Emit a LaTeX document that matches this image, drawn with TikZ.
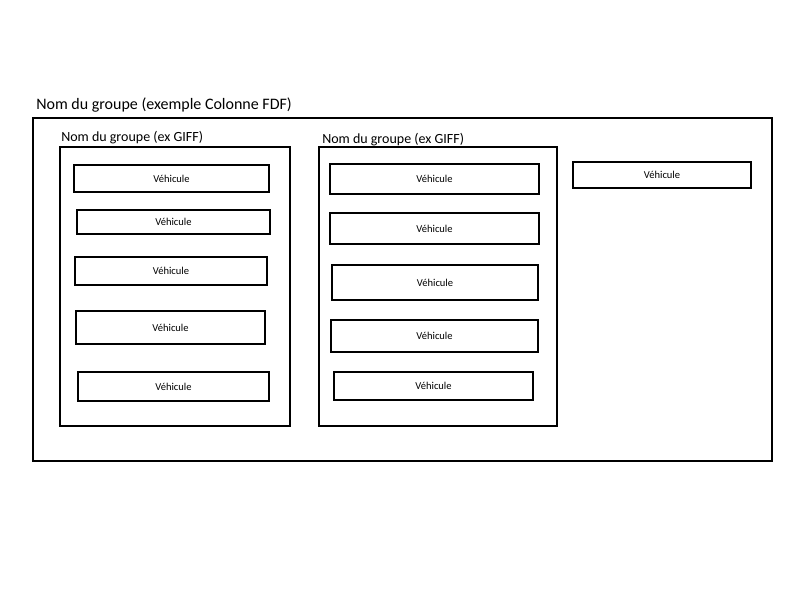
\documentclass[tikz,border=0pt]{standalone}
\usepackage{fontspec}
\setmainfont{Carlito}
\usetikzlibrary{fit}
\tikzset{
  box/.style={draw=black, line width=1.5pt, inner sep=0pt, fill=none},
  veh/.style={box, label={[font=\fontsize{7.9}{9}\selectfont, inner sep=0pt]center:Véhicule}},
  grouplbl/.style={anchor=west, inner sep=0pt, font=\fontsize{10.5}{12}\selectfont},
  titlelbl/.style={anchor=west, inner sep=0pt, font=\fontsize{12}{14}\selectfont}
}
\begin{document}
\begin{tikzpicture}[x=0.75pt,y=-0.75pt]
\useasboundingbox (0,0) rectangle (800,600);
% outer group
\node[box, fit={(33,118) (772,461)}] (outer) {};
\node[titlelbl] (title) at (36,105.5) {Nom du groupe (exemple Colonne FDF)};
% group 1
\node[box, fit={(60,147) (290,426)}] (g1) {};
\node[grouplbl] (g1lbl) at (61,138) {Nom du groupe (ex GIFF)};
\node[veh, fit={(74,165) (269,192)}] (v11) {};
\node[veh, fit={(77,210) (270,234)}] (v12) {};
\node[veh, fit={(75,257) (267,285)}] (v13) {};
\node[veh, fit={(76,311) (265,344)}] (v14) {};
\node[veh, fit={(78,372) (269,401)}] (v15) {};
% group 2
\node[box, fit={(319,147) (557,426)}] (g2) {};
\node[grouplbl] (g2lbl) at (322,140) {Nom du groupe (ex GIFF)};
\node[veh, fit={(330,164) (539,194)}] (v21) {};
\node[veh, fit={(330,213) (539,244)}] (v22) {};
\node[veh, fit={(332,265) (538,300)}] (v23) {};
\node[veh, fit={(331,320) (538,352)}] (v24) {};
\node[veh, fit={(334,372) (533,400)}] (v25) {};
% standalone vehicle
\node[veh, fit={(573,162) (751,188)}] (v3) {};
\end{tikzpicture}
\end{document}
